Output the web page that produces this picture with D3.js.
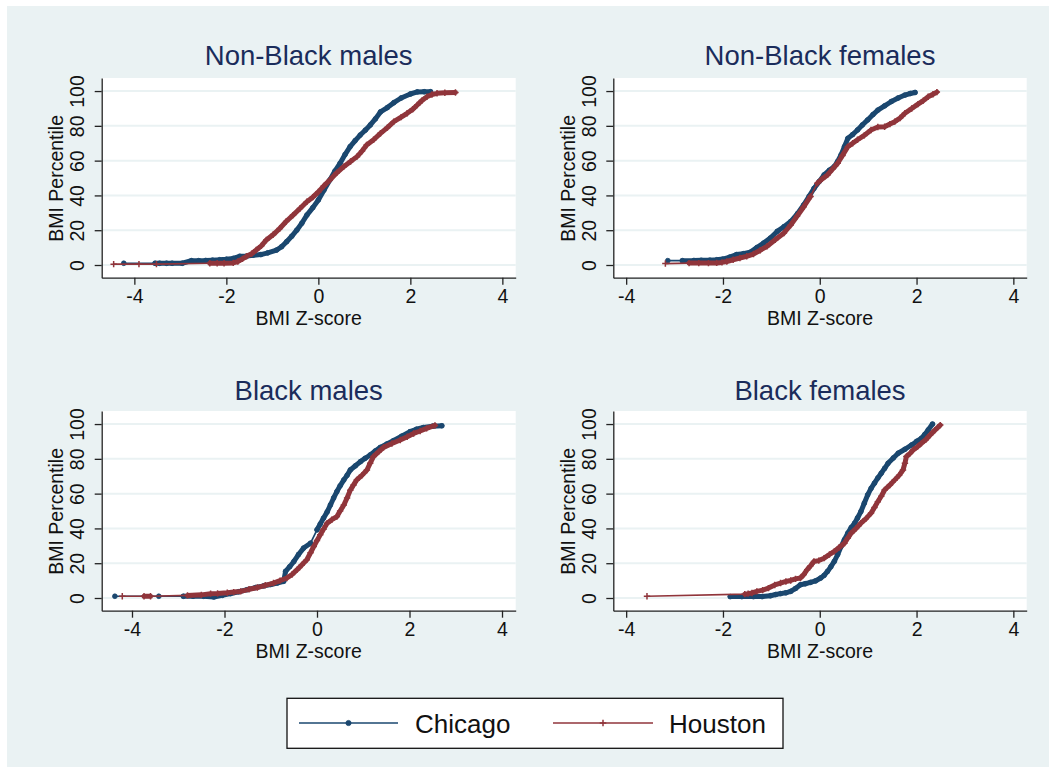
<!DOCTYPE html>
<html><head><meta charset="utf-8">
<script src="https://cdn.jsdelivr.net/npm/d3@7"></script>
<style>html,body{margin:0;padding:0;background:#fff}svg{display:block;font-family:"Liberation Sans",Arial,sans-serif}</style>
</head><body><svg id="c" width="1049" height="767"></svg>
<script>
// ---------- data ----------
const panelTitles = ["Non-Black males", "Non-Black females", "Black males", "Black females"];
const seriesNames = ["Chicago", "Houston"];
const xTickValues = [-4, -2, 0, 2, 4];
const yTickValues = [0, 20, 40, 60, 80, 100];
const xAxisTitle = "BMI Z-score";
const yAxisTitle = "BMI Percentile";

// Non-Black males
const chiNBM_z = [-4.23,-3.55,-3.45,-3.3,-3.18,-2.96,-2.76,-2.6,-2.45,-2.3,-2.15,-2.0,-1.85,-1.71,-1.55,-1.42,-1.25,-1.1,-0.91,-0.8,-0.69,-0.58,-0.47,-0.36,-0.25,-0.12,0,0.12,0.25,0.36,0.47,0.58,0.69,0.8,0.91,1.02,1.13,1.24,1.35,1.5,1.64,1.8,2.0,2.15,2.3,2.44];
const chiNBM_p = [1,1,1,1,1,1,2.5,2.5,2.6,2.8,3,3.3,3.8,5,5.2,5.6,6,7,8.6,10.5,13.4,16.5,20,24,28.7,33,37.4,43,48.9,54,58.4,63.5,68,71.5,74.7,77.5,80.5,84,88,90.5,93.3,96,98.3,99.5,99.6,99.6];
const houNBM_z = [-4.45,-3.9,-3.52,-2.36,-2.2,-2.05,-1.85,-1.75,-1.65,-1.56,-1.45,-1.35,-1.24,-1.13,-0.98,-0.84,-0.7,-0.55,-0.4,-0.25,-0.12,0,0.12,0.25,0.4,0.55,0.7,0.84,0.95,1.05,1.2,1.35,1.5,1.64,1.8,1.93,2.05,2.15,2.25,2.36,2.47,2.58,2.75,2.98];
const houNBM_p = [0.5,0.5,0.5,1,1,1,1.2,2,3.5,5,6.5,8.6,11,14.4,17.5,21,25,28.7,32.5,36.4,39,42,45.5,48.9,53,56.5,59.5,62.3,65.5,69,72,75.7,79,82.4,85,87.2,89.5,92,94.5,96.7,98,98.7,99,99.2];

// Non-Black females
const chiNBF_z = [-3.14,-2.84,-2.6,-2.45,-2.27,-2.13,-2.0,-1.86,-1.72,-1.58,-1.44,-1.3,-1.16,-1.02,-0.88,-0.74,-0.6,-0.46,-0.33,-0.22,-0.12,-0.01,0.09,0.2,0.3,0.37,0.44,0.51,0.58,0.68,0.78,0.88,0.99,1.1,1.2,1.34,1.48,1.62,1.76,1.87,1.97];
const chiNBF_p = [2.5,2.5,2.6,2.7,2.8,3,3.4,4.5,6,6.5,7.3,10,12.6,15.5,19.3,22,25,29.5,34.6,39.5,44,48,51.8,54.5,56.6,59.5,63.3,68,72.8,75,77.6,80.5,83.4,86.5,89,91.5,94,96,97.7,98.6,99.2];
const houNBF_z = [-3.19,-2.7,-2.5,-2.3,-2.13,-2.02,-1.92,-1.79,-1.65,-1.51,-1.37,-1.23,-1.09,-0.92,-0.74,-0.6,-0.47,-0.33,-0.19,-0.05,0.05,0.16,0.26,0.37,0.47,0.58,0.68,0.78,0.92,1.06,1.2,1.34,1.45,1.55,1.66,1.76,1.9,2.03,2.14,2.24,2.34,2.42];
const houNBF_p = [0.8,1.1,1.1,1.1,1.2,1.5,2,3,4,5,6.3,8.5,10.7,14.5,18.4,23,28,33.5,39.4,47,49.5,51.8,55,58.5,63,68,70,72,74.5,77.6,79.3,79.5,81,82.4,84.5,87.2,90,92.5,94.5,96.7,98.2,99.4];

// Black males
const chiBM_z = [-4.37,-3.42,-2.89,-2.68,-2.45,-2.23,-2.05,-1.87,-1.69,-1.51,-1.33,-1.15,-1.0,-0.86,-0.72,-0.68,-0.59,-0.5,-0.4,-0.29,-0.14,0,0.07,0.14,0.22,0.29,0.36,0.43,0.5,0.58,0.65,0.72,0.83,0.94,1.04,1.15,1.26,1.37,1.51,1.65,1.83,2.01,2.15,2.3,2.5,2.7];
const chiBM_p = [1,1,1,1,1,0.6,1.5,2.5,3.6,4.8,6,7,7.8,8.6,9.6,15.3,18,21,25,28.7,31.5,39.2,42.5,45.9,49.5,53.5,57.5,61.2,64.5,67.9,70.5,73.6,76,78.4,80.3,82.2,84.5,86.6,88.5,90.4,93,95.6,97,98,98.8,99];
const houBM_z = [-4.21,-3.74,-3.6,-2.8,-2.5,-2.3,-2.15,-1.94,-1.8,-1.65,-1.47,-1.29,-1.12,-0.94,-0.8,-0.65,-0.54,-0.43,-0.33,-0.22,-0.14,-0.07,0,0.07,0.14,0.22,0.32,0.43,0.5,0.58,0.65,0.72,0.79,0.86,0.97,1.08,1.15,1.22,1.33,1.44,1.62,1.8,1.95,2.09,2.23,2.37,2.55];
const houBM_p = [1,1,1,1.5,1.8,2.5,2.6,3,3.4,3.8,5,6,7.3,8.6,10,11.5,13.5,16.3,19,22,26,29.6,33,36.3,39.5,43,45,46.8,50,53.5,57.5,62,65,67.9,70.5,73.6,77.5,81.3,84,86.6,88.8,90.8,92.7,94.6,96,97.5,99.2];

// Black females
const chiBF_z = [-1.85,-1.61,-1.37,-1.19,-1.02,-0.91,-0.81,-0.7,-0.6,-0.5,-0.4,-0.3,-0.19,-0.09,0.02,0.09,0.16,0.23,0.3,0.37,0.44,0.51,0.58,0.65,0.72,0.78,0.85,0.92,0.99,1.06,1.13,1.2,1.27,1.34,1.41,1.52,1.62,1.76,1.9,2.0,2.1,2.17,2.24,2.33];
const chiBF_p = [0.8,0.8,0.8,0.8,1.3,2,2.5,3,3.8,5.5,7.6,8.2,9,9.8,11.5,13,15.3,18,21,25,29.6,33.5,37.3,40.5,43,46,49.7,54.5,59.3,63,66,69,71.7,74.5,77.4,80.5,83.2,85.5,88,90,91.8,94,96.6,100];
const houBF_z = [-3.57,-1.55,-1.48,-1.4,-1.3,-1.18,-1.06,-0.93,-0.81,-0.7,-0.6,-0.5,-0.4,-0.33,-0.26,-0.19,-0.12,-0.02,0.09,0.2,0.3,0.4,0.51,0.58,0.65,0.75,0.85,0.95,1.06,1.13,1.2,1.27,1.34,1.45,1.55,1.64,1.72,1.76,1.79,1.86,1.93,2.02,2.1,2.19,2.28,2.38,2.49];
const houBF_p = [1,2.2,2.5,2.9,3.8,4.5,5.7,7.5,8.6,9.5,10.1,11,11.5,13.5,16.3,18.5,21,21.5,22.9,25,26.8,29,31.5,34.5,37.3,40,43,45.5,48.8,52,55.4,58.5,62.1,65,67.9,70.5,73.6,77.5,81.3,83,85.1,87,88.9,91,93.7,96.5,99.4];

// ---------- drawing ----------
const colors = ["#1a476f", "#90353b"];
const panelSeries = [
  [[chiNBM_z, chiNBM_p], [houNBM_z, houNBM_p]],
  [[chiNBF_z, chiNBF_p], [houNBF_z, houNBF_p]],
  [[chiBM_z, chiBM_p], [houBM_z, houBM_p]],
  [[chiBF_z, chiBF_p], [houBF_z, houBF_p]]
];
const layout = [
  {x0:101.7, x1:515.7, y0:78, y1:277.7, dom:[-4.71, 4.29], ty:65},
  {x0:613.3, x1:1026.7, y0:78, y1:277.7, dom:[-4.266, 4.276], ty:65},
  {x0:101.7, x1:515.7, y0:411, y1:610.7, dom:[-4.655, 4.296], ty:400},
  {x0:613.3, x1:1026.7, y0:411, y1:610.7, dom:[-4.266, 4.276], ty:400}
];

const svg = d3.select("#c");
svg.append("rect").attr("x", 7).attr("y", 6).attr("width", 1042).attr("height", 761).attr("fill", "#eaf2f3");

function drawMarker(g, s, cx, cy, big) {
  if (s === 0) {
    g.append("circle").attr("cx", cx).attr("cy", cy).attr("r", big ? 2.6 : 2.4)
      .attr("fill", colors[0]).attr("stroke", colors[0]).attr("stroke-width", 0.8);
  } else {
    const a = big ? 3.3 : 3.2;
    g.append("path").attr("d", `M${cx - a},${cy}H${cx + a}M${cx},${cy - a}V${cy + a}`)
      .attr("stroke", colors[1]).attr("stroke-width", 1.5).attr("fill", "none");
  }
}

layout.forEach((L, pi) => {
  const g = svg.append("g");
  const x = d3.scaleLinear().domain(L.dom).range([L.x0, L.x1]);
  const y = d3.scaleLinear().domain([-7.3, 107.5]).range([L.y1, L.y0]);

  g.append("rect").attr("x", L.x0).attr("y", L.y0).attr("width", L.x1 - L.x0).attr("height", L.y1 - L.y0).attr("fill", "#fff");

  g.selectAll("line.grid").data(yTickValues).enter().append("line")
    .attr("x1", L.x0).attr("x2", L.x1).attr("y1", d => y(d)).attr("y2", d => y(d))
    .attr("stroke", "#eaf2f3").attr("stroke-width", 2);

  // series
  panelSeries[pi].forEach((ser, s) => {
    const pts = ser[0].map((v, i) => [x(v), y(ser[1][i])]);
    g.append("path").attr("d", d3.line()(pts)).attr("fill", "none")
      .attr("stroke", colors[s]).attr("stroke-width", 1.7).attr("stroke-linejoin", "round");
    let dense = "";
    for (let i = 0; i < pts.length - 1; i++) {
      const dx = pts[i + 1][0] - pts[i][0], dy = pts[i + 1][1] - pts[i][1];
      if (Math.hypot(dx, dy) < 14) dense += `M${pts[i][0]},${pts[i][1]}L${pts[i + 1][0]},${pts[i + 1][1]}`;
    }
    g.append("path").attr("d", dense).attr("fill", "none").attr("stroke", colors[s])
      .attr("stroke-width", 5).attr("stroke-linecap", "round");
    pts.forEach(pt => drawMarker(g, s, pt[0], pt[1], false));
  });

  // axes
  const ax = g.append("g").attr("transform", `translate(0,${L.y1})`)
    .call(d3.axisBottom(x).tickValues(xTickValues).tickSize(7).tickSizeOuter(0).tickFormat(d => String(d)));
  ax.selectAll("text").attr("y", 25.3).attr("dy", 0).attr("font-size", 19.5)
    .attr("font-family", "Liberation Sans, Arial, sans-serif").attr("fill", "#111");
  const ay = g.append("g").attr("transform", `translate(${L.x0},0)`)
    .call(d3.axisLeft(y).tickValues(yTickValues).tickSize(7).tickSizeOuter(0).tickFormat(d => String(d)));
  ay.selectAll("text").attr("transform", "rotate(-90)").attr("x", 0).attr("y", -17.4).attr("dy", 0)
    .attr("text-anchor", "middle").attr("font-size", 19.5)
    .attr("font-family", "Liberation Sans, Arial, sans-serif").attr("fill", "#111");
  [ax, ay].forEach(a => {
    a.select(".domain").attr("stroke", "#222").attr("stroke-width", 1.3);
    a.selectAll(".tick line").attr("stroke", "#222").attr("stroke-width", 1.3);
  });

  // titles
  const cx = (L.x0 + L.x1) / 2;
  g.append("text").attr("x", cx).attr("y", L.ty).attr("text-anchor", "middle")
    .attr("font-size", 27.5).attr("fill", "#1a2c5b").text(panelTitles[pi]);
  g.append("text").attr("x", cx).attr("y", L.y1 + 47.4).attr("text-anchor", "middle")
    .attr("font-size", 19.5).attr("fill", "#111").text(xAxisTitle);
  g.append("text").attr("transform", `translate(${L.x0 - 38.4},${(L.y0 + L.y1) / 2 + 0.5}) rotate(-90)`)
    .attr("text-anchor", "middle").attr("font-size", 19.5).attr("fill", "#111").text(yAxisTitle);
});

// legend
const lg = svg.append("g");
lg.append("rect").attr("x", 287).attr("y", 698.3).attr("width", 496).attr("height", 50)
  .attr("fill", "#fff").attr("stroke", "#111").attr("stroke-width", 1.3);
const legendItems = [{lx0: 299, lx1: 398, tx: 415}, {lx0: 553, lx1: 653, tx: 669}];
seriesNames.forEach((name, s) => {
  const it = legendItems[s];
  lg.append("line").attr("x1", it.lx0).attr("x2", it.lx1).attr("y1", 723).attr("y2", 723)
    .attr("stroke", colors[s]).attr("stroke-width", 1.7);
  drawMarker(lg, s, (it.lx0 + it.lx1) / 2, 723, true);
  lg.append("text").attr("x", it.tx).attr("y", 732.5).attr("font-size", 26).attr("fill", "#111").text(name);
});
</script>
</body></html>
